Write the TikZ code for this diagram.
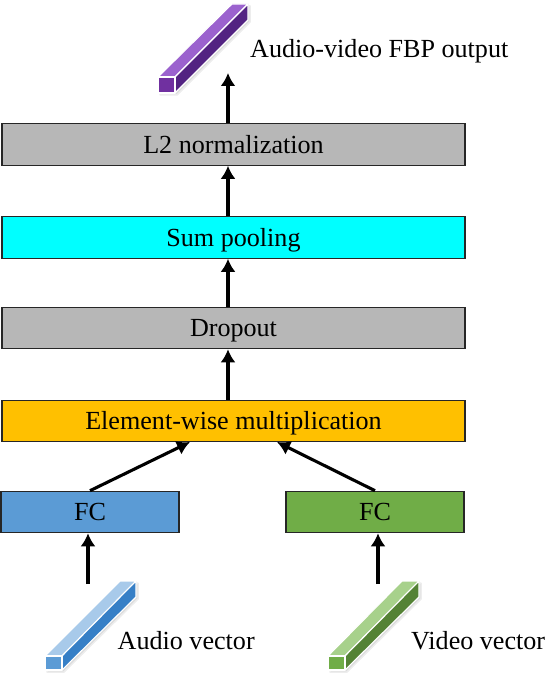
\documentclass[tikz,border=0pt]{standalone}
\usepackage{fontspec}
\setmainfont{Liberation Serif}
\usetikzlibrary{arrows.meta}
\definecolor{cgray}{HTML}{B7B7B7}
\definecolor{ccyan}{HTML}{00FFFF}
\definecolor{cgold}{HTML}{FFC000}
\definecolor{cblue}{HTML}{5B9BD5}
\definecolor{cblueT}{HTML}{A8CAEA}
\definecolor{cblueS}{HTML}{367FC6}
\definecolor{cgreen}{HTML}{70AD47}
\definecolor{cgreenT}{HTML}{A7D18B}
\definecolor{cgreenS}{HTML}{548235}
\definecolor{cpurp}{HTML}{7030A0}
\definecolor{cpurpT}{HTML}{9B62CE}
\definecolor{cpurpS}{HTML}{532382}
\tikzset{
  layer/.style={draw=black!85,line width=1.1pt,rectangle,minimum height=41.5pt,inner sep=0pt,text height=20pt,text depth=3pt,font=\fontsize{26.1}{30}\selectfont},
  wide/.style={layer,minimum width=463pt},
  fcbox/.style={layer,minimum width=178pt},
  flow/.style={draw=black,line width=3.1pt,-{Latex[length=13pt,width=15pt]}},
  lbl/.style={font=\fontsize{26.1}{30}\selectfont,inner sep=0pt,anchor=west},
  barface/.style={draw=white,line width=1.1pt,line join=round},
  barshadow/.style={fill=black!14,draw=black!7,line width=1.5pt,line join=round}
}
\newcommand{\vecbar}[8]{%
  \fill[barshadow] (#1+2,#4+2) -- (#2+2,#4+2) -- (#6+2,#7+18) -- (#6+2,#7+2) -- (#5+2,#7+2) -- (#1+2,#3+2) -- cycle;
  \path[barface,fill=#8T] (#1,#3) -- (#5,#7) -- (#6,#7) -- (#2,#3) -- cycle;
  \path[barface,fill=#8S] (#2,#3) -- (#6,#7) -- (#6,#7+16) -- (#2,#4) -- cycle;
  \path[barface,fill=#8] (#1,#3) rectangle (#2,#4);
}
\begin{document}
\begin{tikzpicture}[x=1pt,y=-1pt]
\useasboundingbox (0,0) rectangle (548,682);
\node[wide,fill=cgray] (l2) at (233.5,144.5) {L2 normalization};
\node[wide,fill=ccyan] (sum) at (233.5,237.5) {Sum pooling};
\node[wide,fill=cgray] (drop) at (233.5,328) {Dropout};
\node[wide,fill=cgold] (elem) at (233.5,421) {Element-wise multiplication};
\node[fcbox,fill=cblue] (fca) at (90,512) {FC};
\node[fcbox,fill=cgreen] (fcv) at (375,512) {FC};
\vecbar{158}{175}{77}{93}{232}{248}{4}{cpurp}
\vecbar{45}{62}{656}{670}{120}{136}{581}{cblue}
\vecbar{328}{345}{656}{670}{402}{419}{581}{cgreen}
\node[lbl] (out) at (250,51) {Audio-video FBP output};
\node[lbl] (alab) at (117.5,641) {Audio vector};
\node[lbl] (vlab) at (411,641) {Video vector};
\coordinate (top) at (228,73);
\coordinate (ain) at (88,584);
\coordinate (vin) at (378,584);
\draw[flow] (l2.north -| top) -- (top);
\draw[flow] (sum.north -| top) -- (l2.south -| top);
\draw[flow] (drop.north -| top) -- (sum.south -| top);
\draw[flow] (elem.north -| top) -- (drop.south -| top);
\coordinate (ea) at (190,442);
\coordinate (ev) at (277,442);
\draw[flow] (fca.north) -- (ea);
\draw[flow] (fcv.north) -- (ev);
\draw[flow] (ain) -- (fca.south -| ain);
\draw[flow] (vin) -- (fcv.south -| vin);
\end{tikzpicture}
\end{document}
